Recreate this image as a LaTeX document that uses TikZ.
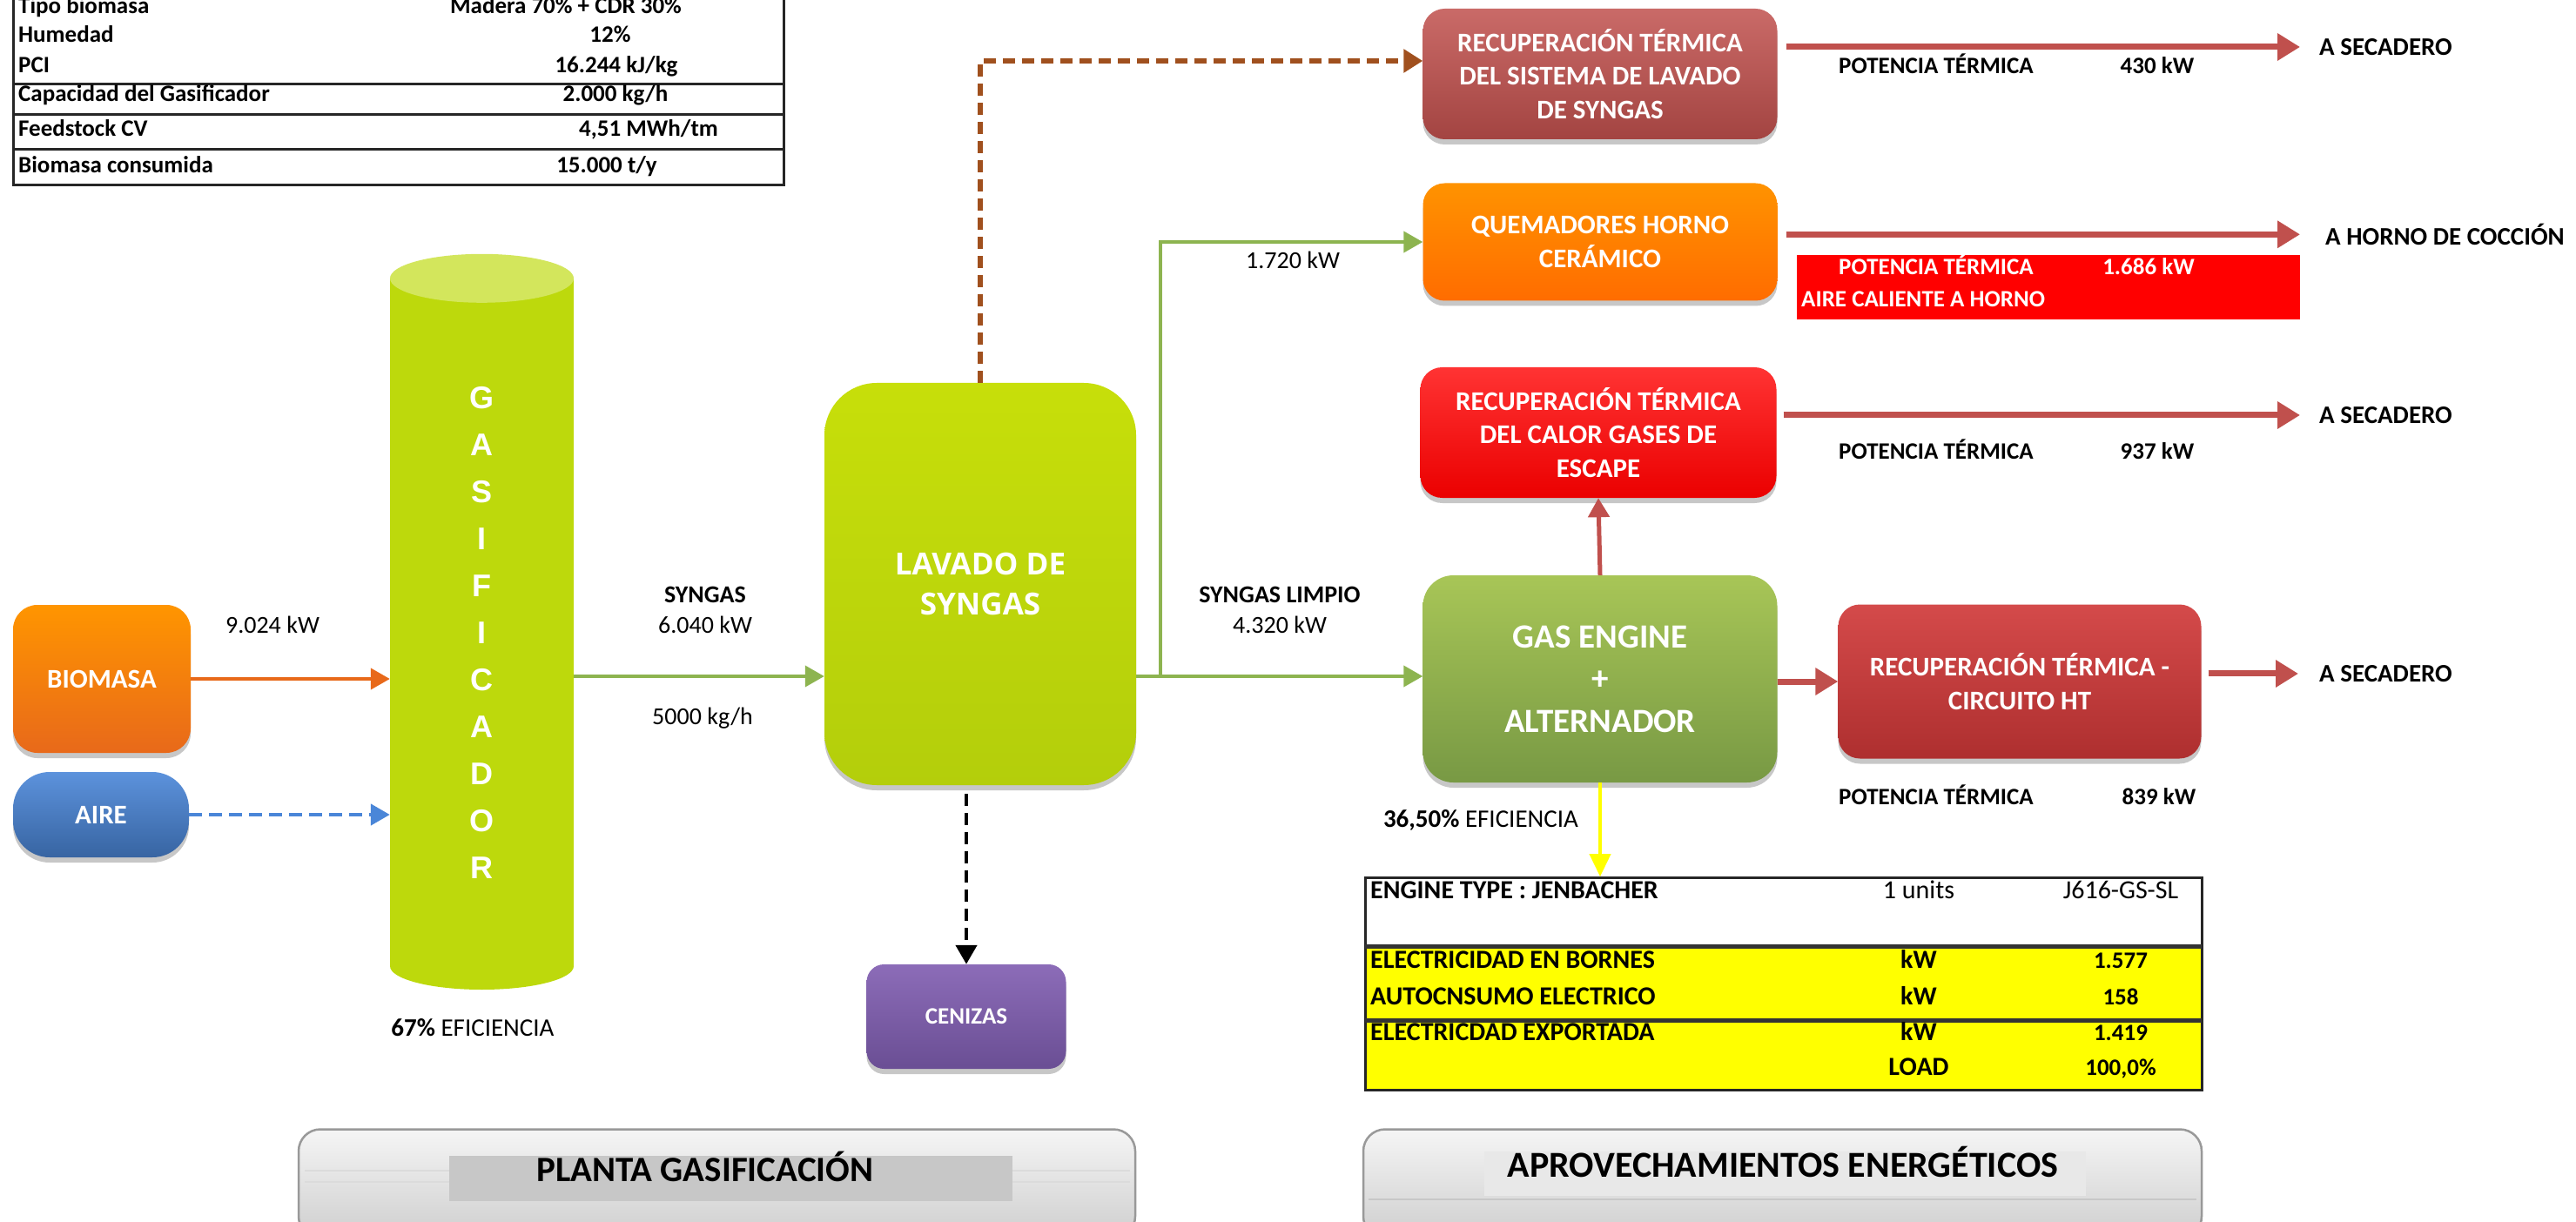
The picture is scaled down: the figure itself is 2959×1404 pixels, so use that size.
\documentclass[tikz,border=0pt]{standalone}
\usepackage{fontspec}
\setmainfont{Carlito}
\newfontfamily\arialfont{Liberation Sans}
\newfontfamily\opensans{Open Sans}
\usetikzlibrary{arrows.meta,shadows}

\newcommand\fsz[2]{\fontsize{#1}{#2}\selectfont}

\definecolor{limeg}{HTML}{BDD90C}
\definecolor{limetop}{HTML}{D3E65C}
\definecolor{flowgreen}{HTML}{8DB450}
\definecolor{heatred}{HTML}{C0504D}
\definecolor{brownd}{HTML}{A0501E}
\definecolor{airblue}{HTML}{4A86D8}
\definecolor{bioorange}{HTML}{E8691A}
\definecolor{tabyellow}{HTML}{FFFF00}
\definecolor{httop}{HTML}{D44A4A}
\definecolor{htbot}{HTML}{AE2F2F}
\definecolor{centop}{HTML}{8C6CB8}
\definecolor{cenbot}{HTML}{6A4E94}

\tikzset{
  txt/.style={inner sep=0pt, font=\fsz{28}{34}},
  btxt/.style={inner sep=0pt, font=\bfseries\fsz{28}{34}},
  ptxt/.style={inner sep=0pt, font=\bfseries\fsz{27}{33}},
  tabtxt/.style={inner sep=0pt, font=\bfseries\fsz{27}{33}},
  engtxt/.style={inner sep=0pt, font=\bfseries\fsz{30}{36}},
  desttxt/.style={inner sep=0pt, font=\bfseries\fsz{29}{35}, anchor=mid west},
  procbox/.style={inner sep=0pt, align=center, text=white,
    font=\bfseries\fsz{31}{38.5},
    drop shadow={shadow xshift=0pt, shadow yshift=-6pt, opacity=0.22, fill=black}},
  flow/.style={draw=flowgreen, line width=4pt, -{Triangle[length=22pt,width=24pt]}},
  heat/.style={draw=heatred, line width=7pt, -{Triangle[length=26pt,width=30pt]}},
  tline/.style={draw=black!85, line width=3pt},
  banner/.style={draw=black!40, line width=2.5pt, rounded corners=25pt,
    top color=black!4, bottom color=black!19, inner sep=0pt},
}

\begin{document}
\begin{tikzpicture}[x=1pt,y=-1pt]
\useasboundingbox (0,0) rectangle (2959,1404);
\fill[white] (0,0) rectangle (2959,1404);

% ---------- biomass data table (top left) ----------
\draw[tline] (15,-5) -- (15,213) -- (900,213) -- (900,-5);
\draw[tline] (15,97) -- (900,97);
\draw[tline] (15,132) -- (900,132);
\draw[tline] (15,172) -- (900,172);
\node[tabtxt, anchor=mid west] (t1) at (21,13)  {Tipo biomasa};
\node[tabtxt, anchor=mid west] (t2) at (21,46)  {Humedad};
\node[tabtxt, anchor=mid west] (t3) at (21,81)  {PCI};
\node[tabtxt, anchor=mid west] (t4) at (21,114) {Capacidad del Gasificador};
\node[tabtxt, anchor=mid west] (t5) at (21,154) {Feedstock CV};
\node[tabtxt, anchor=mid west] (t6) at (21,196) {Biomasa consumida};
\node[tabtxt, anchor=mid] (v1) at (650,13)  {Madera 70\% + CDR 30\%};
\node[tabtxt, anchor=mid] (v2) at (701,46)  {12\%};
\node[tabtxt, anchor=mid] (v3) at (708,81)  {16.244 kJ/kg};
\node[tabtxt, anchor=mid] (v4) at (707,114) {2.000 kg/h};
\node[tabtxt, anchor=mid] (v5) at (745,154) {4,51 MWh/tm};
\node[tabtxt, anchor=mid] (v6) at (697,196) {15.000 t/y};

% ---------- inputs ----------
\node[procbox, rounded corners=28pt, minimum width=204pt, minimum height=170pt,
      top color=orange!70!yellow!90!red, bottom color=bioorange] (biom) at (117,780) {BIOMASA};
\node[procbox, rounded corners=42pt, minimum width=202pt, minimum height=98pt,
      top color=airblue!90!white, bottom color=airblue!75!black] (aire) at (116,936) {AIRE};

% ---------- gasifier (cylinder) ----------
\fill[limeg] (553.5,1110) ellipse[x radius=105.5pt, y radius=27pt];
\node[fill=limeg, minimum width=211pt, minimum height=790pt, inner sep=0pt] (gas) at (553.5,715) {};
\fill[limetop] (gas.north) ellipse[x radius=105.5pt, y radius=28pt];
\foreach \ch/\yy in {G/457,A/511,S/565,I/619,F/673,I/727,C/781,A/835,D/889,O/943,R/997}
  \node[inner sep=0pt, text=white, font=\arialfont\bfseries\fsz{36}{40}] at (553.5,\yy) {\ch};
\node[inner sep=0pt, font=\fsz{29}{35}, anchor=mid] (effg) at (543,1188) {\textbf{67\%} EFICIENCIA};

% ---------- syngas washing ----------
\node[procbox, rounded corners=60pt, minimum width=358pt, minimum height=462pt,
      top color=limeg!85!yellow, bottom color=limeg!95!black,
      font=\opensans\bfseries\fsz{35}{46}] (lav) at (1126,671) {LAVADO DE\\SYNGAS};
\node[procbox, rounded corners=20pt, minimum width=229pt, minimum height=120pt,
      top color=centop, bottom color=cenbot,
      font=\bfseries\fsz{27}{33}] (cen) at (1110,1168) {CENIZAS};

% ---------- energy use boxes ----------
\node[procbox, rounded corners=25pt, minimum width=407pt, minimum height=150pt,
      top color=heatred!85!white, bottom color=heatred!85!black] (rlav) at (1838,85)
      {RECUPERACIÓN TÉRMICA\\DEL SISTEMA DE LAVADO\\DE SYNGAS};
\node[procbox, rounded corners=25pt, minimum width=407pt, minimum height=135pt,
      top color=orange!85!yellow, bottom color=orange!85!red] (quem) at (1838,278)
      {QUEMADORES HORNO\\CERÁMICO};
\node[procbox, rounded corners=25pt, minimum width=409pt, minimum height=150pt,
      top color=red!80!white, bottom color=red!92!black] (resc) at (1836,497)
      {RECUPERACIÓN TÉRMICA\\DEL CALOR GASES DE\\ESCAPE};
\node[procbox, rounded corners=35pt, minimum width=407pt, minimum height=238pt,
      top color=flowgreen!85!yellow!90!white, bottom color=flowgreen!85!black,
      font=\bfseries\fsz{39}{48.5}] (eng) at (1838,780)
      {GAS ENGINE\\+\\ALTERNADOR};
\node[procbox, rounded corners=25pt, minimum width=417pt, minimum height=177pt,
      top color=httop, bottom color=htbot] (ht) at (2320,783)
      {RECUPERACIÓN TÉRMICA -\\CIRCUITO HT};

% ---------- destinations ----------
\node[desttxt] (sec1) at (2664,61)  {A SECADERO};
\node[desttxt] (horn) at (2671,279) {A HORNO DE COCCIÓN};
\node[desttxt] (sec2) at (2664,484) {A SECADERO};
\node[desttxt] (sec3) at (2664,781) {A SECADERO};

% ---------- flow connectors ----------
\coordinate (rowy) at (0,777);
\coordinate (brch) at (1333,777);
\draw[draw=bioorange, line width=4pt, -{Triangle[length=22pt,width=24pt]}]
  (biom.east) -- (biom.east -| gas.west);
\draw[draw=airblue, line width=4.5pt, dash pattern=on 15pt off 8pt,
      -{Triangle[length=22pt,width=24pt]}]
  (aire.east) -- (aire.east -| gas.west);
\draw[flow] (gas.east |- rowy) -- (lav.west |- rowy);
\draw[flow] (lav.east |- rowy) -- (eng.west |- rowy);
\draw[flow] (brch) |- (quem.west);
\draw[draw=brownd, line width=5.5pt, dash pattern=on 14pt off 8pt,
      -{Triangle[length=22pt,width=26pt]}]
  (lav.north) |- ([yshift=15pt]rlav.west);
\draw[draw=black, line width=4.5pt, dash pattern=on 14pt off 8pt,
      -{Triangle[length=22pt,width=24pt]}, shorten <=10pt]
  (lav.south -| cen.north) -- (cen.north);

% heat outputs
\draw[heat, shorten <=10pt, shorten >=22pt] (rlav.east |- sec1.west) -- (sec1.west);
\draw[heat, shorten <=10pt, shorten >=29pt] (quem.east |- horn.west) -- (horn.west);
\draw[heat, shorten <=8pt, shorten >=22pt] (resc.east |- sec2.west) -- (sec2.west);
\draw[heat, shorten <=8pt, shorten >=24pt] (ht.east |- sec3.west) -- (sec3.west);
\draw[heat] (eng.east |- ht.west) -- (ht.west);
\draw[draw=heatred, line width=5pt, -{Triangle[length=22pt,width=24pt]}]
  (eng.north) -- (resc.south);
\draw[draw=tabyellow, line width=4pt, -{Triangle[length=26pt,width=24pt]}]
  (eng.south) -- ++(0,-108pt) coordinate (ytip);

% ---------- flow labels ----------
\node[txt, anchor=mid] (l9024) at (313,725) {9.024 kW};
\node[btxt, anchor=mid] (lsyn) at (810,690) {SYNGAS};
\node[txt, anchor=mid] (l6040) at (810,725) {6.040 kW};
\node[txt, anchor=mid] (l5000) at (807,830) {5000 kg/h};
\node[btxt, anchor=mid] (llim) at (1470,690) {SYNGAS LIMPIO};
\node[txt, anchor=mid] (l4320) at (1470,725) {4.320 kW};
\node[txt, anchor=mid] (l1720) at (1485,306) {1.720 kW};
\node[inner sep=0pt, font=\fsz{29}{35}, anchor=mid] (effe) at (1701,948) {\textbf{36,50\%} EFICIENCIA};

% thermal power labels
\node[ptxt, anchor=mid west] (p1) at (2112,82) {POTENCIA TÉRMICA};
\node[ptxt, anchor=mid] (p1v) at (2478,82) {430 kW};
\node[fill=red, minimum width=578pt, minimum height=74pt, inner sep=0pt, anchor=north west] (redb) at (2064,293) {};
\node[ptxt, anchor=mid west, text=white] (p2) at (2112,313) {POTENCIA TÉRMICA};
\node[ptxt, anchor=mid, text=white] (p2v) at (2468,313) {1.686 kW};
\node[ptxt, anchor=mid west, text=white] (p2b) at (2069,350) {AIRE CALIENTE A HORNO};
\node[ptxt, anchor=mid west] (p3) at (2112,525) {POTENCIA TÉRMICA};
\node[ptxt, anchor=mid] (p3v) at (2478,525) {937 kW};
\node[ptxt, anchor=mid west] (p4) at (2112,922) {POTENCIA TÉRMICA};
\node[ptxt, anchor=mid] (p4v) at (2480,922) {839 kW};

% ---------- engine table ----------
\fill[tabyellow] (1568,1087) rectangle (2529,1252);
\draw[tline] (1568,1008) rectangle (2529,1252);
\draw[draw=black!80, line width=5pt] (1568,1087) -- (2529,1087);
\draw[draw=black!80, line width=5pt] (1568,1172) -- (2529,1172);
\node[engtxt, anchor=mid west] (e1) at (1574,1030) {ENGINE TYPE : JENBACHER};
\node[inner sep=0pt, font=\fsz{30}{36}, anchor=mid] (e1b) at (2204,1030) {1 units};
\node[inner sep=0pt, font=\fsz{30}{36}, anchor=mid] (e1c) at (2436,1030) {J616-GS-SL};
\node[engtxt, anchor=mid west] (e2) at (1574,1110) {ELECTRICIDAD EN BORNES};
\node[engtxt, anchor=mid] (e2b) at (2204,1110) {kW};
\node[tabtxt, anchor=mid] (e2c) at (2436,1110) {1.577};
\node[engtxt, anchor=mid west] (e3) at (1574,1152) {AUTOCNSUMO ELECTRICO};
\node[engtxt, anchor=mid] (e3b) at (2204,1152) {kW};
\node[tabtxt, anchor=mid] (e3c) at (2436,1152) {158};
\node[engtxt, anchor=mid west] (e4) at (1574,1193) {ELECTRICDAD EXPORTADA};
\node[engtxt, anchor=mid] (e4b) at (2204,1193) {kW};
\node[tabtxt, anchor=mid] (e4c) at (2436,1193) {1.419};
\node[engtxt, anchor=mid] (e5b) at (2204,1233) {LOAD};
\node[tabtxt, anchor=mid] (e5c) at (2436,1233) {100,0\%};

% ---------- section banners ----------
\node[banner, minimum width=961pt, minimum height=125pt] (plb) at (823.5,1360) {};
\draw[draw=black!14, line width=2pt] (350,1345) -- (1298,1345);
\draw[draw=black!14, line width=2pt] (350,1358) -- (1298,1358);
\node[fill=black!22, minimum width=647pt, minimum height=52pt, inner sep=0pt] (plr) at (839.5,1354) {};
\node[inner sep=0pt, font=\bfseries\fsz{41}{48}, anchor=mid] (plt) at (810,1355) {PLANTA GASIFICACIÓN};

\node[banner, minimum width=963pt, minimum height=125pt] (apb) at (2047.5,1360) {};
\draw[draw=black!22, line width=2pt] (1572,1378) -- (2523,1378);
\node[fill=black!9, minimum width=691pt, minimum height=51pt, inner sep=0pt] (apr) at (2050.5,1348.5) {};
\node[inner sep=0pt, font=\bfseries\fsz{42}{48}, anchor=mid] (apt) at (2048,1350) {APROVECHAMIENTOS ENERGÉTICOS};
\end{tikzpicture}
\end{document}
